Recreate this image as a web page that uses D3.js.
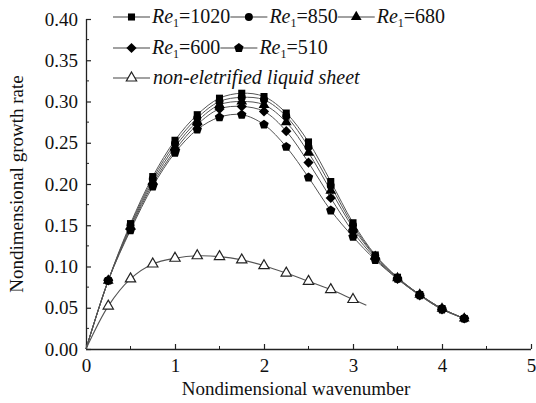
<!DOCTYPE html>
<html>
<head>
<meta charset="utf-8">
<script src="https://cdn.jsdelivr.net/npm/d3@7"></script>
<style>
  body { margin: 0; background: #fff; }
  svg { display: block; }
  text { font-family: "Liberation Serif", "DejaVu Serif", serif; fill: #111; }
</style>
</head>
<body>
<svg id="chart" width="536" height="403"></svg>
<script>
// wavenumber points for the electrified cases
const k = [0, 0.25, 0.5, 0.75, 1, 1.25, 1.5, 1.75, 2, 2.25, 2.5, 2.75, 3, 3.25, 3.5, 3.75, 4, 4.25];
const re1020 = [0, 0.083, 0.152, 0.209, 0.253, 0.284, 0.304, 0.310, 0.306, 0.286, 0.251, 0.203, 0.153, 0.114, 0.087, 0.066, 0.049, 0.037];
const re850 = [0, 0.083, 0.150, 0.206, 0.249, 0.280, 0.300, 0.305, 0.302, 0.282, 0.245, 0.198, 0.150, 0.113, 0.086, 0.066, 0.049, 0.037];
const re680 = [0, 0.083, 0.148, 0.203, 0.245, 0.276, 0.296, 0.300, 0.296, 0.275, 0.238, 0.192, 0.147, 0.112, 0.086, 0.066, 0.049, 0.037];
const re600 = [0, 0.083, 0.146, 0.200, 0.241, 0.272, 0.291, 0.294, 0.288, 0.264, 0.226, 0.183, 0.142, 0.110, 0.085, 0.065, 0.048, 0.037];
const re510 = [0, 0.083, 0.144, 0.197, 0.238, 0.266, 0.281, 0.284, 0.272, 0.245, 0.208, 0.168, 0.136, 0.108, 0.085, 0.065, 0.048, 0.037];
// non-electrified sheet (last point is the end of the line, no marker)
const kNon = [0, 0.25, 0.5, 0.75, 1, 1.25, 1.5, 1.75, 2, 2.25, 2.5, 2.75, 3, 3.15];
const nonElec = [0, 0.052, 0.085, 0.103, 0.110, 0.113, 0.112, 0.108, 0.101, 0.092, 0.082, 0.072, 0.060, 0.053];

const xTicks = [0, 1, 2, 3, 4, 5];
const yTicks = [0, 0.05, 0.10, 0.15, 0.20, 0.25, 0.30, 0.35, 0.40];

const svg = d3.select('#chart');
const margin = {left: 86, right: 5, top: 19, bottom: 54};
const W = 536, H = 403;

const x = d3.scaleLinear().domain([0, 5]).range([margin.left, W - margin.right]);
const y = d3.scaleLinear().domain([0, 0.4]).range([H - margin.bottom, margin.top]);

// pentagon marker
const symbolPentagon = {
  draw(context, size) {
    const r = Math.sqrt(size / 2.378);
    for (let i = 0; i < 5; i++) {
      const a = -Math.PI / 2 + i * 2 * Math.PI / 5;
      if (i === 0) context.moveTo(r * Math.cos(a), r * Math.sin(a));
      else context.lineTo(r * Math.cos(a), r * Math.sin(a));
    }
    context.closePath();
  }
};
// square turned 45 degrees
const symbolRhomb = {
  draw(context, size) {
    const r = Math.sqrt(size / 2);
    context.moveTo(0, -r);
    context.lineTo(r, 0);
    context.lineTo(0, r);
    context.lineTo(-r, 0);
    context.closePath();
  }
};

const series = [
  {label: '1020', values: re1020, sym: d3.symbolSquare, size: 50},
  {label: '850', values: re850, sym: d3.symbolCircle, size: 50},
  {label: '680', values: re680, sym: d3.symbolTriangle, size: 50},
  {label: '600', values: re600, sym: symbolRhomb, size: 52},
  {label: '510', values: re510, sym: symbolPentagon, size: 58},
];

// axes (ticks inward)
const xAxis = d3.axisBottom(x).tickValues(xTicks).tickSize(-5).tickPadding(10).tickFormat(d3.format('d'));
const yAxis = d3.axisLeft(y).tickValues(yTicks).tickSize(-5).tickPadding(8).tickFormat(d3.format('.2f'));

const gx = svg.append('g').attr('transform', `translate(0,${y(0)})`).call(xAxis);
const gy = svg.append('g').attr('transform', `translate(${x(0)},0)`).call(yAxis);

[gx, gy].forEach(g => {
  g.select('.domain').attr('stroke', '#222').attr('stroke-width', 1.3);
  g.selectAll('.tick line').attr('stroke', '#222').attr('stroke-width', 1.2);
  g.selectAll('.tick text').attr('font-size', 19).attr('font-family', '"Liberation Serif", serif').attr('fill', '#111');
});
gy.select('.domain').attr('d', `M0.5,${y(0)}V${y(0.4)}`);
gx.select('.domain').attr('d', `M${x(0)},0.5H${x(5)}`);

// minor ticks
svg.append('g').selectAll('line')
    .data(d3.range(0.025, 0.4, 0.05))
    .enter().append('line')
    .attr('x1', x(0)).attr('x2', x(0) + 3)
    .attr('y1', d => y(d)).attr('y2', d => y(d))
    .attr('stroke', '#222');
svg.append('g').selectAll('line')
    .data(d3.range(0.5, 5, 1))
    .enter().append('line')
    .attr('x1', d => x(d)).attr('x2', d => x(d))
    .attr('y1', y(0)).attr('y2', y(0) - 3)
    .attr('stroke', '#222');

// axis titles
svg.append('text')
    .attr('x', 296).attr('y', 395)
    .attr('text-anchor', 'middle')
    .attr('font-size', 19)
    .text('Nondimensional wavenumber');
svg.append('text')
    .attr('transform', 'translate(23,184) rotate(-90)')
    .attr('text-anchor', 'middle')
    .attr('font-size', 19)
    .text('Nondimensional growth rate');

const line = d3.line()
    .x(d => x(d[0]))
    .y(d => y(d[1]))
    .curve(d3.curveCatmullRom.alpha(0.5));

// non-electrified
const nonPts = kNon.map((v, i) => [v, nonElec[i]]);
svg.append('path')
    .attr('d', line(nonPts))
    .attr('fill', 'none')
    .attr('stroke', '#555')
    .attr('stroke-width', 1.1);
svg.append('g').selectAll('path')
    .data(nonPts.slice(1, -1))
    .enter().append('path')
    .attr('transform', d => `translate(${x(d[0])},${y(d[1])})`)
    .attr('d', d3.symbol(d3.symbolTriangle, 46))
    .attr('fill', '#fff')
    .attr('stroke', '#222')
    .attr('stroke-width', 1.2);

// electrified
series.forEach(s => {
  const pts = k.map((v, i) => [v, s.values[i]]);
  svg.append('path')
      .attr('d', line(pts))
      .attr('fill', 'none')
      .attr('stroke', '#555')
      .attr('stroke-width', 1);
});
series.forEach(s => {
  const pts = k.map((v, i) => [v, s.values[i]]);
  svg.append('g').selectAll('path')
      .data(pts.slice(1))
      .enter().append('path')
      .attr('transform', d => `translate(${x(d[0])},${y(d[1])})`)
      .attr('d', d3.symbol(s.sym, s.size))
      .attr('fill', '#000');
});

// legend
const legendRows = [
  {y: 23, items: series.slice(0, 3)},
  {y: 54, items: series.slice(3, 5)},
];
const segLen = 37;

function legendSwatch(g, cx, cy, sym, size, open) {
  g.append('line')
      .attr('x1', cx - segLen / 2).attr('x2', cx + segLen / 2)
      .attr('y1', cy).attr('y2', cy)
      .attr('stroke', '#444').attr('stroke-width', 1.1);
  g.append('path')
      .attr('transform', `translate(${cx},${cy})`)
      .attr('d', d3.symbol(sym, size))
      .attr('fill', open ? '#fff' : '#000')
      .attr('stroke', open ? '#222' : 'none')
      .attr('stroke-width', 1.2);
}

const legend = svg.append('g');
legendRows.forEach(row => {
  let cursor = 113;
  row.items.forEach(s => {
    legendSwatch(legend, cursor + segLen / 2, row.y - 6, s.sym, s.size);
    const t = legend.append('text')
        .attr('x', cursor + segLen + 2)
        .attr('y', row.y)
        .attr('font-size', 20);
    t.append('tspan').attr('font-style', 'italic').text('Re');
    t.append('tspan').attr('font-size', 12).attr('dy', 4).text('1');
    t.append('tspan').attr('dy', -4).text('=' + s.label);
    cursor += segLen + 2 + t.node().getComputedTextLength();
  });
});
legendSwatch(legend, 113 + segLen / 2, 78, d3.symbolTriangle, 46, true);
legend.append('text')
    .attr('x', 113 + segLen + 3)
    .attr('y', 84)
    .attr('font-size', 20)
    .attr('font-style', 'italic')
    .text('non-eletrified liquid sheet');
</script>
</body>
</html>
